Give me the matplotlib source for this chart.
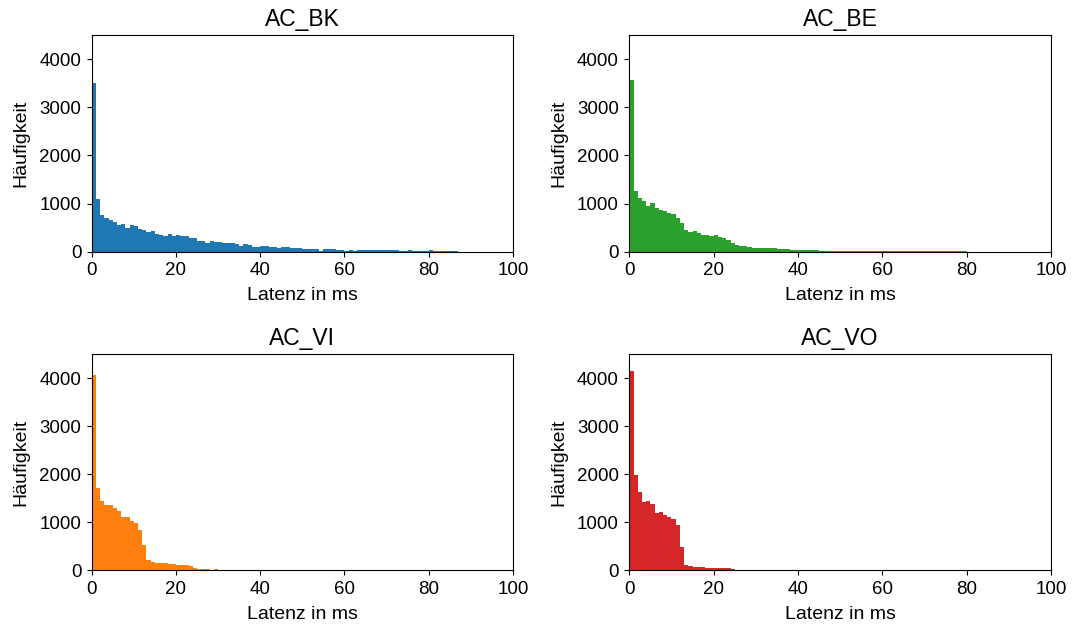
import numpy as np
import matplotlib
matplotlib.use("Agg")
import matplotlib.pyplot as plt

plt.rcParams['font.family'] = ['Liberation Sans', 'DejaVu Sans']

titles = ["AC_BK", "AC_BE", "AC_VI", "AC_VO"]
colors = ["#1f77b4", "#2ca02c", "#ff7f0e", "#d62728"]
bin_edges = list(range(0, 101))

ac_bk = ([3510, 1100, 765, 700, 655, 620, 560, 575, 495, 555,
          535, 470, 450, 410, 430, 370, 345, 325, 370, 325,
          345, 325, 325, 285, 285, 220, 220, 180, 220, 200,
          200, 180, 180, 180, 160, 120, 160, 140, 95, 95,
          120, 120, 95, 95, 75, 95, 95, 75, 75, 75,
          55, 55, 55, 55, 20, 55, 55, 55, 35, 35,
          20, 35, 20, 35, 35, 35, 35, 35, 35, 35,
          35, 35, 35, 10, 10, 30, 10, 10, 10, 10,
          35, 5, 5, 5, 5, 5, 15, 3, 3, 3,
          3, 3, 3, 3, 3, 3, 3, 3, 3, 3])

ac_be = ([3560, 1265, 1120, 1055, 950, 1015, 910, 870, 845, 805,
          785, 700, 595, 450, 410, 430, 390, 345, 345, 325,
          345, 305, 285, 245, 180, 140, 120, 120, 95, 75,
          75, 75, 75, 75, 75, 55, 55, 55, 35, 35,
          35, 35, 35, 35, 35, 20, 20, 20, 20, 20,
          8, 8, 8, 8, 8, 8, 8, 8, 8, 8,
          8, 8, 8, 12, 15, 12, 15, 12, 12, 15,
          12, 12, 15, 12, 15, 12, 12, 15, 12, 10,
          3, 3, 3, 3, 3, 3, 3, 3, 3, 3,
          3, 3, 3, 3, 3, 3, 3, 3, 3, 3])

ac_vi = ([4060, 1715, 1440, 1355, 1355, 1300, 1235, 1110, 1110, 1030,
          985, 840, 530, 215, 175, 155, 155, 155, 130, 130,
          110, 110, 110, 90, 50, 30, 30, 30, 15, 30,
          6, 6, 6, 6, 6, 6, 6, 6, 6, 6,
          2, 2, 2, 2, 2, 2, 2, 2, 2, 2,
          2, 2, 2, 2, 2, 2, 2, 2, 2, 2,
          2, 2, 2, 2, 2, 2, 2, 2, 2, 2,
          2, 2, 2, 2, 2, 2, 2, 2, 2, 2,
          2, 2, 2, 2, 2, 2, 2, 2, 2, 2,
          2, 2, 2, 2, 2, 2, 2, 2, 2, 2])

ac_vo = ([4150, 1985, 1630, 1425, 1445, 1380, 1195, 1215, 1155, 1110,
          1070, 945, 485, 110, 90, 70, 70, 70, 50, 50,
          50, 50, 50, 50, 28, 5, 5, 5, 5, 5,
          2, 2, 2, 2, 2, 2, 2, 2, 2, 2,
          2, 2, 2, 2, 2, 2, 2, 2, 2, 2,
          2, 2, 2, 2, 2, 2, 2, 2, 2, 2,
          2, 2, 2, 2, 2, 2, 2, 2, 2, 2,
          2, 2, 2, 2, 2, 2, 2, 2, 2, 2,
          2, 2, 2, 2, 2, 2, 2, 2, 2, 2,
          2, 2, 2, 2, 2, 2, 2, 2, 2, 2])

series = [ac_bk, ac_be, ac_vi, ac_vo]
x_ticks = [0, 20, 40, 60, 80, 100]
y_ticks = [0, 1000, 2000, 3000, 4000]

fig = plt.figure(figsize=(10.75, 6.28), dpi=100)
W, H = 1075, 628
boxes = [(91.7, 35, 513, 251.7), (629.3, 35, 1051, 251.7),
         (91.7, 354, 513, 570.3), (629.3, 354, 1051, 570.3)]

edges = np.array(bin_edges, dtype=float)
centers = (edges[:-1] + edges[1:]) / 2

for (l, t, r, b), title, color, counts in zip(boxes, titles, colors, series):
    ax = fig.add_axes([l / W, (H - b) / H, (r - l) / W, (b - t) / H])
    ax.hist(centers, bins=edges, weights=counts, color=color)
    ax.set_xlim(0, 100)
    ax.set_ylim(0, 4500)
    ax.set_xticks(x_ticks)
    ax.set_yticks(y_ticks)
    ax.tick_params(labelsize=13.5, pad=4)
    ax.set_title(title, fontsize=16.5, pad=6.5)
    ax.set_xlabel("Latenz in ms", fontsize=14, labelpad=6)
    ax.set_ylabel("Häufigkeit", fontsize=14, labelpad=7)

fig.savefig("out.png", dpi=100)
